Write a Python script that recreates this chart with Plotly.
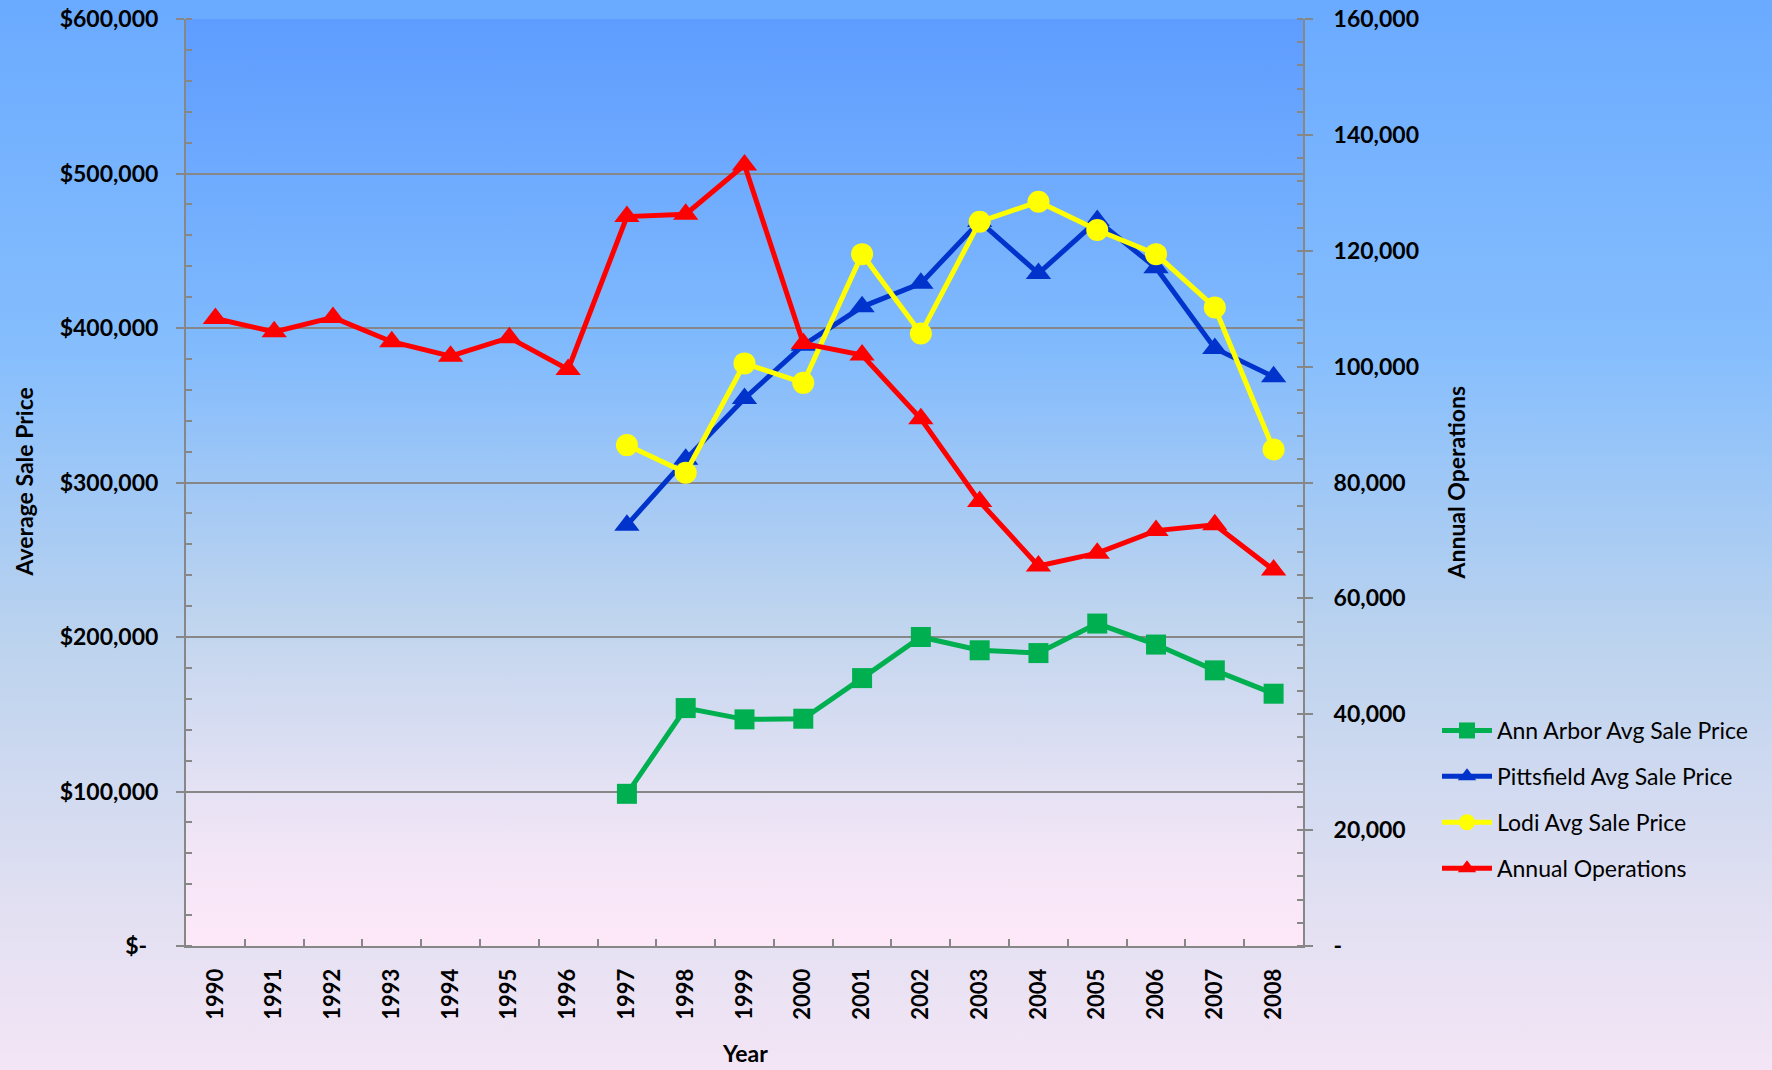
import base64
import plotly.graph_objects as go

years = [str(y) for y in range(1990, 2009)]
price_years = [str(y) for y in range(1997, 2009)]

ann_arbor = [98500, 154000, 146700, 147100, 173400, 200000, 191400, 189600, 208700, 195100, 178400, 163300]
pittsfield = [272400, 315000, 354400, 388900, 413700, 428900, 469000, 435300, 469500, 439000, 386800, 368400]
lodi = [324200, 306300, 377100, 364500, 447800, 396500, 468800, 481700, 463400, 447800, 413300, 321400]
operations = [108300, 106000, 108500, 104300, 101800, 105000, 99500, 125900, 126300, 134800,
              104000, 102000, 91000, 76700, 65600, 67800, 71700, 72700, 64900]

left_vals = [0, 100000, 200000, 300000, 400000, 500000, 600000]
left_text = ["$-\u00a0\u00a0", "$100,000", "$200,000", "$300,000", "$400,000", "$500,000", "$600,000"]
right_vals = [0, 20000, 40000, 60000, 80000, 100000, 120000, 140000, 160000]
right_text = ["-", "20,000", "40,000", "60,000", "80,000", "100,000", "120,000", "140,000", "160,000"]

W, H = 1772, 1070
L, R, T, B = 186, 469, 19, 124
PW, PH = W - L - R, H - T - B

GRAY = "#878787"
FONT = "Lato"


def grad_uri(stops, w, h):
    st = "".join(f'<stop offset="{o}" stop-color="{c}"/>' for o, c in stops)
    svg = (f'<svg xmlns="http://www.w3.org/2000/svg" width="{w}" height="{h}" '
           f'preserveAspectRatio="none" viewBox="0 0 {w} {h}"><defs>'
           f'<linearGradient id="g" x1="0" y1="0" x2="0" y2="1">{st}</linearGradient></defs>'
           f'<rect x="0" y="0" width="{w}" height="{h}" fill="url(#g)"/></svg>')
    return "data:image/svg+xml;base64," + base64.b64encode(svg.encode()).decode()


paper_grad = grad_uri([(0, "#6aaaff"), (0.33, "#86befd"), (0.6, "#bcd3ee"),
                       (0.85, "#e2e0f2"), (1, "#f3e5f5")], W, H)
plot_grad = grad_uri([(0, "#5e9cff"), (0.35, "#80bafd"), (0.65, "#c0d5ee"),
                      (0.9, "#f3e6f6"), (1, "#fde8f9")], PW, PH)

fig = go.Figure()
fig.add_trace(go.Scatter(x=price_years, y=ann_arbor, name="Ann Arbor Avg Sale Price",
                         mode="lines+markers", legendgroup="a",
                         line=dict(color="#00b050", width=5),
                         marker=dict(symbol="square", size=20, color="#00b050")))
fig.add_trace(go.Scatter(x=price_years, y=pittsfield, name="Pittsfield Avg Sale Price",
                         mode="lines+markers", legendgroup="b",
                         line=dict(color="#0033cc", width=5),
                         marker=dict(symbol="triangle-up", size=22, color="#0033cc")))
fig.add_trace(go.Scatter(x=price_years, y=lodi, name="Lodi Avg Sale Price",
                         mode="lines+markers", legendgroup="c",
                         line=dict(color="#ffff00", width=5),
                         marker=dict(symbol="circle", size=22, color="#ffff00")))
fig.add_trace(go.Scatter(x=years, y=operations, name="Annual Operations", yaxis="y2",
                         mode="lines+markers", legendgroup="d",
                         line=dict(color="#ff0000", width=5),
                         marker=dict(symbol="triangle-up", size=22, color="#ff0000")))

tickfont = dict(family=FONT, size=23, color="black", weight="bold")
titlefont = dict(family=FONT, size=23, color="black", weight="bold")

fig.update_layout(
    width=W, height=H,
    margin=dict(l=L, r=R, t=T, b=B, autoexpand=False),
    paper_bgcolor="#a9cbf3",
    plot_bgcolor="rgba(0,0,0,0)",
    showlegend=True,
    legend=dict(x=(1437 - L) / PW, y=(H - B - 709) / PH, xanchor="left", yanchor="top",
                bgcolor="rgba(0,0,0,0)", traceorder="grouped", tracegroupgap=13,
                font=dict(family=FONT, size=23, color="black"), itemwidth=50),
    xaxis=dict(type="category", categoryorder="array", categoryarray=years,
               range=[-0.5, 18.5], tickangle=-90, tickson="boundaries",
               ticks="inside", ticklen=7, tickwidth=2, tickcolor=GRAY,
               showline=True, linecolor=GRAY, linewidth=2, showgrid=False,
               tickfont=dict(family=FONT, size=22, color="black", weight="bold"),
               ticklabelstandoff=12, fixedrange=True),
    yaxis=dict(range=[0, 600000], tickmode="array", tickvals=left_vals, ticktext=left_text,
               ticks="outside", ticklen=8, tickwidth=2, tickcolor=GRAY,
               showline=True, linecolor=GRAY, linewidth=2,
               showgrid=True, gridcolor=GRAY, gridwidth=2, zeroline=False,
               minor=dict(tickmode="linear", tick0=0, dtick=20000, ticks="inside",
                          ticklen=6, tickwidth=2, tickcolor=GRAY, showgrid=False),
               tickfont=tickfont, ticklabelstandoff=13, fixedrange=True),
    yaxis2=dict(range=[0, 160000], overlaying="y", side="right", anchor="x",
                tickmode="array", tickvals=right_vals, ticktext=right_text,
                ticks="outside", ticklen=8, tickwidth=2, tickcolor=GRAY,
                showline=True, linecolor=GRAY, linewidth=2,
                showgrid=False, zeroline=False,
                minor=dict(tickmode="linear", tick0=0, dtick=4000, ticks="inside",
                           ticklen=6, tickwidth=2, tickcolor=GRAY, showgrid=False),
                tickfont=tickfont, ticklabelstandoff=16, fixedrange=True),
    images=[
        dict(source=paper_grad, xref="paper", yref="paper", x=-L / PW, y=1 + T / PH,
             sizex=W / PW, sizey=H / PH, xanchor="left", yanchor="top",
             sizing="stretch", layer="below"),
        dict(source=plot_grad, xref="paper", yref="paper", x=0, y=1,
             sizex=1, sizey=1, xanchor="left", yanchor="top",
             sizing="stretch", layer="below"),
    ],
    annotations=[
        dict(text="Average Sale Price", xref="paper", yref="paper",
             x=(23 - L) / PW, y=0.5, xanchor="center", yanchor="middle",
             textangle=-90, showarrow=False, font=titlefont),
        dict(text="Annual Operations", xref="paper", yref="paper",
             x=(1455 - L) / PW, y=0.5, xanchor="center", yanchor="middle",
             textangle=-90, showarrow=False, font=titlefont),
        dict(text="Year", xref="paper", yref="paper",
             x=0.5, y=(H - B - 1053) / PH, xanchor="center", yanchor="middle",
             showarrow=False, font=titlefont),
    ],
)

fig.write_html("out.html", config={"displayModeBar": False},
               post_script="document.body.style.margin='0';document.body.style.padding='0';"
                           "document.body.style.overflow='hidden';")
